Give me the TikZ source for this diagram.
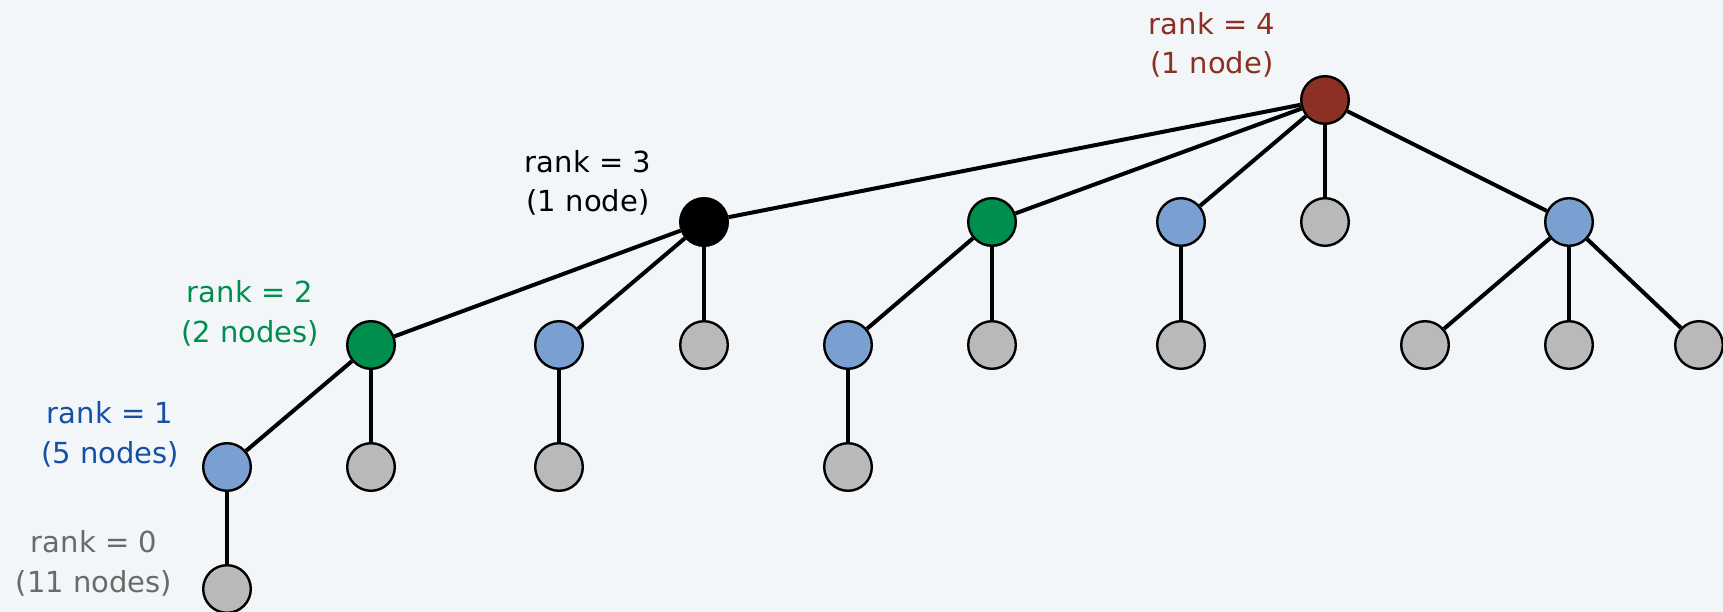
\documentclass[tikz,border=0pt]{standalone}
\usepackage{fontspec}
\setmainfont{DejaVu Sans}
\definecolor{bgc}{HTML}{F3F6F9}
\definecolor{redc}{HTML}{8B3022}
\definecolor{greenc}{HTML}{008E4F}
\definecolor{bluec}{HTML}{7AA0D2}
\definecolor{bluet}{HTML}{1650A6}
\definecolor{grayc}{HTML}{B9B9B9}
\definecolor{grayt}{HTML}{6A6A6A}
\begin{document}
\begin{tikzpicture}[x=1pt,y=-1pt,
  tnode/.style={circle,draw=black,line width=2.4pt,minimum size=47.6pt,inner sep=0pt},
  rk4/.style={tnode,fill=redc},
  rk3/.style={tnode,fill=black},
  rk2/.style={tnode,fill=greenc},
  rk1/.style={tnode,fill=bluec},
  rk0/.style={tnode,fill=grayc},
  edge/.style={line width=4pt},
  lbl/.style={align=center,anchor=base,inner sep=0pt,font=\fontsize{29}{39.5}\selectfont}]
\fill[bgc] (0,0) rectangle (1723,612);
\useasboundingbox (0,0) rectangle (1723,612);
% nodes
\node[rk4] (r) at (1325,100) {};
\node[rk3] (a) at (704,222) {};
\node[rk2] (b) at (992,222) {};
\node[rk1] (c) at (1181,222) {};
\node[rk0] (d) at (1325,222) {};
\node[rk1] (e) at (1569,222) {};
\node[rk2] (a1) at (371,345) {};
\node[rk1] (a2) at (559,345) {};
\node[rk0] (a3) at (704,345) {};
\node[rk1] (b1) at (848,345) {};
\node[rk0] (b2) at (992,345) {};
\node[rk0] (c1) at (1181,345) {};
\node[rk0] (e1) at (1425,345) {};
\node[rk0] (e2) at (1569,345) {};
\node[rk0] (e3) at (1699,345) {};
\node[rk1] (a11) at (227,467) {};
\node[rk0] (a12) at (371,467) {};
\node[rk0] (a21) at (559,467) {};
\node[rk0] (b11) at (848,467) {};
\node[rk0] (a111) at (227,589) {};
% edges
\foreach \u/\v in {r/a,r/b,r/c,r/d,r/e,a/a1,a/a2,a/a3,b/b1,b/b2,c/c1,e/e1,e/e2,e/e3,a1/a11,a1/a12,a2/a21,b1/b11,a11/a111}
  \draw[edge] (\u) -- (\v);
% labels (anchor base = baseline of last line)
\node[lbl,text=redc] (l4) at (1212,74) {rank = 4\\(1 node)};
\node[lbl,text=black] (l3) at (588,212) {rank = 3\\(1 node)};
\node[lbl,text=greenc] (l2) at (250,342) {rank = 2\\(2 nodes)};
\node[lbl,text=bluet] (l1) at (110,463) {rank = 1\\(5 nodes)};
\node[lbl,text=grayt] (l0) at (94,592) {rank = 0\\(11 nodes)};
\end{tikzpicture}
\end{document}
